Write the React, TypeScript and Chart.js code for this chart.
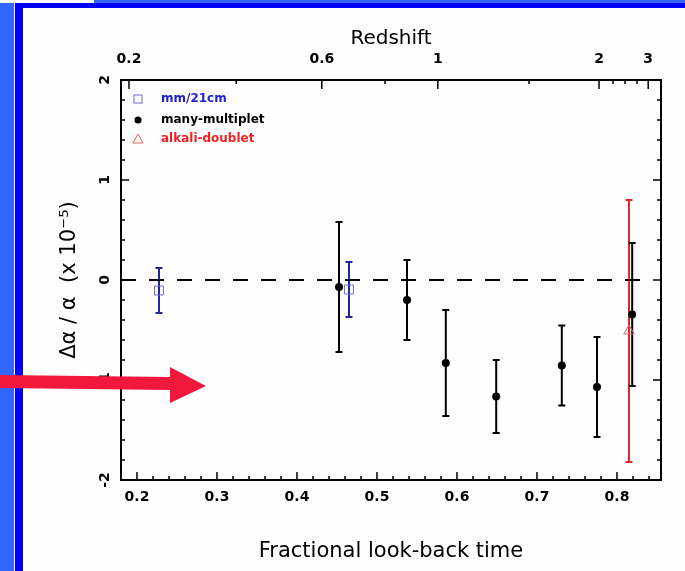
import React, { useEffect, useRef } from 'react';
import { Chart, registerables } from 'chart.js';

Chart.register(...registerables);

const FONT = "'DejaVu Sans', 'Liberation Sans', sans-serif";

// mm/21cm (blue squares)
const mmTime = [0.2275, 0.465];
const mmDelta = [-0.105, -0.095];
const mmErr = [0.225, 0.275];

// many-multiplet (black dots)
const multTime = [0.4525, 0.5375, 0.586, 0.649, 0.731, 0.775, 0.819];
const multDelta = [-0.07, -0.2, -0.83, -1.165, -0.855, -1.07, -0.345];
const multErr = [0.65, 0.4, 0.53, 0.365, 0.4, 0.5, 0.715];

// alkali-doublet (red triangle)
const alkTime = [0.815];
const alkDelta = [-0.51];
const alkErr = [1.31];

const legendLabels = ['mm/21cm', 'many-multiplet', 'alkali-doublet'];

const timeTicks = [0.2, 0.3, 0.4, 0.5, 0.6, 0.7, 0.8];
const redshiftLabels = ['0.2', '0.6', '1', '2', '3'];
const redshiftTickTimes = [0.19, 0.431, 0.576, 0.7775, 0.839];
const redshiftMinorTimes = [0.324, 0.51, 0.69, 0.795, 0.81, 0.825];
const deltaTicks = [-2, -1, 0, 1, 2];
const zeroLineTimes = [0.18, 0.831];

const BLUE_BAR = '#24249e';
const BLUE_MARK = '#6a6ae0';
const BLUE_TEXT = '#2222cc';
const RED_BAR = '#e3262f';
const RED_MARK = '#e46060';
const RED_TEXT = '#ee2222';

const errorBarPlugin = {
  id: 'errorBars',
  beforeDatasetsDraw(chart: any) {
    const { ctx, scales } = chart;
    const x = scales.x;
    const y = scales.y;
    const groups = [
      { t: alkTime, d: alkDelta, e: alkErr, color: RED_BAR },
      { t: mmTime, d: mmDelta, e: mmErr, color: BLUE_BAR },
      { t: multTime, d: multDelta, e: multErr, color: '#000' },
    ];
    ctx.save();
    groups.forEach((g) => {
      ctx.strokeStyle = g.color;
      ctx.lineWidth = 2;
      g.t.forEach((t, i) => {
        const px = x.getPixelForValue(t);
        const top = y.getPixelForValue(g.d[i] + g.e[i]);
        const bot = y.getPixelForValue(g.d[i] - g.e[i]);
        ctx.beginPath();
        ctx.moveTo(px, top);
        ctx.lineTo(px, bot);
        ctx.moveTo(px - 3.5, top);
        ctx.lineTo(px + 3.5, top);
        ctx.moveTo(px - 3.5, bot);
        ctx.lineTo(px + 3.5, bot);
        ctx.stroke();
      });
    });
    ctx.restore();
  },
};

const framePlugin = {
  id: 'frameTicks',
  afterDatasetsDraw(chart: any) {
    const { ctx, chartArea: a, scales } = chart;
    const x = scales.x;
    const y = scales.y;
    ctx.save();
    ctx.strokeStyle = '#000';
    ctx.lineWidth = 1.5;
    ctx.beginPath();
    // bottom axis ticks
    for (let k = 10; k <= 42; k++) {
      const v = k / 50;
      const px = x.getPixelForValue(v);
      const len = k % 5 === 0 ? 8 : 4;
      ctx.moveTo(px, a.bottom);
      ctx.lineTo(px, a.bottom - len);
    }
    // top axis ticks
    redshiftTickTimes.forEach((v) => {
      const px = x.getPixelForValue(v);
      ctx.moveTo(px, a.top);
      ctx.lineTo(px, a.top + 9);
    });
    redshiftMinorTimes.forEach((v) => {
      const px = x.getPixelForValue(v);
      ctx.moveTo(px, a.top);
      ctx.lineTo(px, a.top + 4);
    });
    // left/right ticks
    for (let k = -10; k <= 10; k++) {
      const v = k / 5;
      const py = y.getPixelForValue(v);
      const len = k % 5 === 0 ? 8 : 4;
      ctx.moveTo(a.left, py);
      ctx.lineTo(a.left + len, py);
      ctx.moveTo(a.right, py);
      ctx.lineTo(a.right - len, py);
    }
    ctx.stroke();
    ctx.lineWidth = 2;
    ctx.strokeRect(a.left, a.top, a.right - a.left, a.bottom - a.top);

    // legend
    const sx = a.left + 17;
    const tx = a.left + 40;
    const rows = [a.top + 19, a.top + 40, a.top + 59];
    ctx.font = `bold 12px ${FONT}`;
    ctx.textBaseline = 'middle';
    ctx.textAlign = 'left';
    // square
    ctx.lineWidth = 1;
    ctx.strokeStyle = BLUE_MARK;
    ctx.strokeRect(sx - 4, rows[0] - 4, 8, 8);
    ctx.fillStyle = BLUE_TEXT;
    ctx.fillText(legendLabels[0], tx, rows[0]);
    // dot
    ctx.fillStyle = '#000';
    ctx.beginPath();
    ctx.arc(sx, rows[1], 3.5, 0, Math.PI * 2);
    ctx.fill();
    ctx.fillText(legendLabels[1], tx, rows[1]);
    // triangle
    ctx.strokeStyle = RED_MARK;
    ctx.beginPath();
    ctx.moveTo(sx, rows[2] - 5);
    ctx.lineTo(sx + 5, rows[2] + 4);
    ctx.lineTo(sx - 5, rows[2] + 4);
    ctx.closePath();
    ctx.stroke();
    ctx.fillStyle = RED_TEXT;
    ctx.fillText(legendLabels[2], tx, rows[2]);
    ctx.restore();
  },
};

export default function App() {
  const ref = useRef<HTMLCanvasElement>(null);

  useEffect(() => {
    const tickFont = { family: FONT, size: 14, weight: 'bold' as const };
    const chart = new Chart(ref.current as HTMLCanvasElement, {
      type: 'scatter',
      data: {
        datasets: [
          {
            label: legendLabels[2],
            data: alkTime.map((t, i) => ({ x: t, y: alkDelta[i] })),
            pointStyle: 'triangle',
            pointRadius: 6,
            borderColor: RED_MARK,
            backgroundColor: 'rgba(0,0,0,0)',
            borderWidth: 1,
          },
          {
            label: legendLabels[1],
            data: multTime.map((t, i) => ({ x: t, y: multDelta[i] })),
            pointStyle: 'circle',
            pointRadius: 4,
            borderColor: '#000',
            backgroundColor: '#000',
            borderWidth: 0,
          },
          {
            label: legendLabels[0],
            data: mmTime.map((t, i) => ({ x: t, y: mmDelta[i] })),
            pointStyle: 'rect',
            pointRadius: 6.3,
            borderColor: BLUE_MARK,
            backgroundColor: 'rgba(0,0,0,0)',
            borderWidth: 1,
          },
          {
            type: 'line' as any,
            label: 'zero',
            data: zeroLineTimes.map((t) => ({ x: t, y: 0 })),
            showLine: true,
            pointRadius: 0,
            borderColor: '#000',
            borderWidth: 2,
            borderDash: [15, 13],
            fill: false,
          } as any,
        ],
      },
      options: {
        responsive: false,
        animation: false,
        devicePixelRatio: 1,
        layout: { padding: { left: 0, right: 24, top: 0, bottom: 0 } },
        plugins: { legend: { display: false }, tooltip: { enabled: false } },
        scales: {
          x: {
            type: 'linear',
            position: 'bottom',
            min: 0.18,
            max: 0.855,
            grid: { display: false, drawTicks: false },
            border: { display: false },
            afterBuildTicks: (s: any) => {
              s.ticks = timeTicks.map((v) => ({ value: v }));
            },
            afterFit: (s: any) => {
              s.height = 91;
            },
            ticks: {
              color: '#000',
              font: tickFont,
              padding: 9,
              autoSkip: false,
              maxRotation: 0,
              minRotation: 0,
              callback: (v: any) => Number(v).toFixed(1),
            },
            title: {
              display: true,
              text: 'Fractional look-back time',
              color: '#000',
              font: { family: FONT, size: 21 },
              padding: { top: 0, bottom: 7 },
            },
          },
          x2: {
            type: 'linear',
            axis: 'x',
            position: 'top',
            min: 0.18,
            max: 0.855,
            grid: { display: false, drawTicks: false },
            border: { display: false },
            afterBuildTicks: (s: any) => {
              s.ticks = redshiftTickTimes.map((v) => ({ value: v }));
            },
            afterFit: (s: any) => {
              s.height = 80;
            },
            ticks: {
              color: '#000',
              font: tickFont,
              padding: 12,
              autoSkip: false,
              maxRotation: 0,
              minRotation: 0,
              callback: (_v: any, i: number) => redshiftLabels[i],
            },
            title: {
              display: true,
              text: 'Redshift',
              color: '#000',
              font: { family: FONT, size: 20 },
              padding: { top: 27, bottom: 0 },
            },
          } as any,
          y: {
            type: 'linear',
            position: 'left',
            min: -2,
            max: 2,
            grid: { display: false, drawTicks: false },
            border: { display: false },
            afterBuildTicks: (s: any) => {
              s.ticks = deltaTicks.map((v) => ({ value: v }));
            },
            afterFit: (s: any) => {
              s.width = 121;
            },
            ticks: {
              color: '#000',
              font: tickFont,
              padding: 8,
              autoSkip: false,
              minRotation: 90,
              maxRotation: 90,
              crossAlign: 'center',
              callback: (v: any) => String(v),
            },
            title: {
              display: true,
              text: 'Δα / α  (x 10⁻⁵)',
              color: '#000',
              font: { family: FONT, size: 21 },
              padding: { top: 57, bottom: 0 },
            },
          },
        },
      },
      plugins: [errorBarPlugin, framePlugin],
    } as any);
    return () => chart.destroy();
  }, []);

  return (
    <div
      style={{
        position: 'absolute',
        left: 0,
        top: 0,
        width: 685,
        height: 571,
        background: '#fdfefd',
        overflow: 'hidden',
      }}
    >
      <div style={{ position: 'absolute', left: 0, top: 3, width: 14, height: 568, background: '#3366ff' }} />
      <div style={{ position: 'absolute', left: 15, top: 3, width: 8, height: 568, background: '#0000ff' }} />
      <div style={{ position: 'absolute', left: 15, top: 3, width: 670, height: 5, background: '#0000ff' }} />
      <div style={{ position: 'absolute', left: 94, top: 0, width: 591, height: 3, background: '#3366ff' }} />
      <canvas
        ref={ref}
        width={685}
        height={571}
        style={{ position: 'absolute', left: 0, top: 0 }}
      />
      <svg
        width={685}
        height={571}
        style={{ position: 'absolute', left: 0, top: 0, pointerEvents: 'none' }}
      >
        <polygon points="0,375 171,377 171,390 0,388" fill="#f2183c" />
        <polygon points="170,367 206,386 170,403" fill="#f2183c" />
      </svg>
    </div>
  );
}
